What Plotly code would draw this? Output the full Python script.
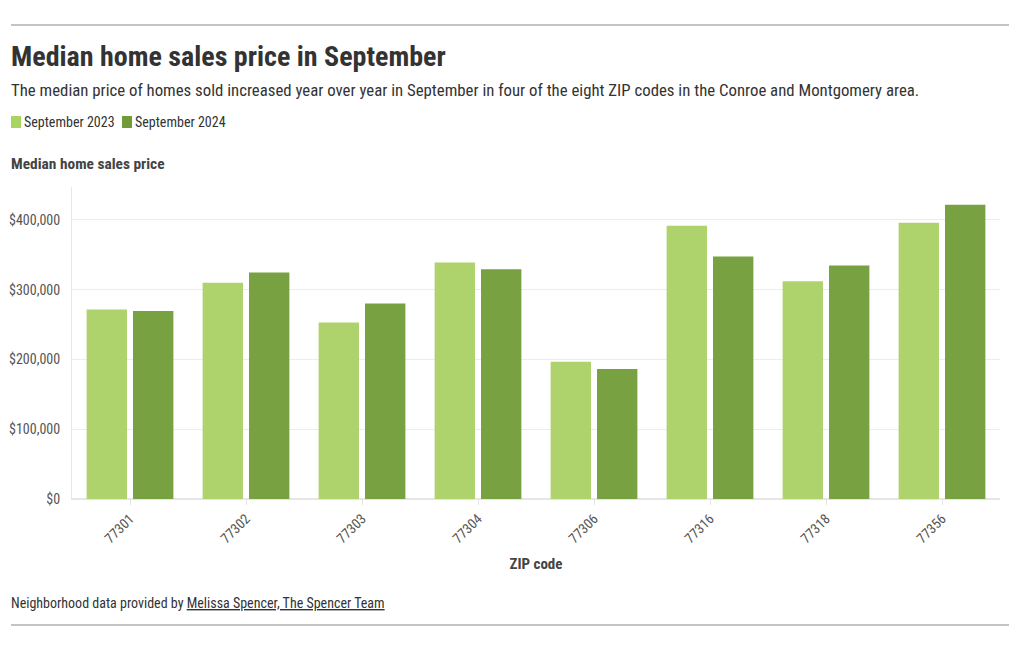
import plotly.graph_objects as go

zip_codes = ["77301", "77302", "77303", "77304", "77306", "77316", "77318", "77356"]
sep_2023 = [271500, 309700, 252800, 339000, 196600, 391400, 311900, 395700]
sep_2024 = [269500, 324500, 280000, 329000, 186100, 347300, 334400, 421500]
series_names = ["September 2023", "September 2024"]
y_ticks = [0, 100000, 200000, 300000, 400000]
y_tick_labels = ["$0", "$100,000", "$200,000", "$300,000", "$400,000"]

FONT = "Roboto Condensed, Liberation Sans Narrow, Roboto, sans-serif"
colors = ["#aed36c", "#78a142"]
legend_colors = ["#a9d462", "#6f9c36"]

# page body has an 8px margin in the browser; compensate so screen positions match
OFF = 8
W, H = 1020, 650
ml, mr, mt, mb = 72 - OFF, 28, 187 - OFF, 159
pw = W - ml - mr
ph = H - mt - mb

def px_x(p):
    return (p - OFF - ml) / pw

def px_y(p):
    return (H - mb - (p - OFF)) / ph

fig = go.Figure()
for name, vals, c in zip(series_names, [sep_2023, sep_2024], colors):
    fig.add_trace(go.Bar(
        x=zip_codes, y=vals, name=name, marker=dict(color=c, line=dict(width=0)),
        hovertemplate="%{x}: $%{y:,.0f}<extra>" + name + "</extra>",
    ))

fig.update_layout(
    width=W, height=H,
    margin=dict(l=ml, r=mr, t=mt, b=mb, autoexpand=False),
    paper_bgcolor="white", plot_bgcolor="white",
    font=dict(family=FONT, size=14, color="#444"),
    barmode="group", bargap=0.2, bargroupgap=0.13,
    showlegend=False,
    xaxis=dict(
        type="category", showgrid=False, tickangle=-45,
        tickfont=dict(family=FONT, size=14, color="#555"),
        ticks="outside", ticklen=5, tickcolor="#e6e6e6",
        showline=True, linecolor="#e6e6e6",
        title=dict(text="<b>ZIP code</b>", font=dict(family=FONT, size=15, color="#444"), standoff=13),
        fixedrange=True,
    ),
    yaxis=dict(
        range=[0, 447000], tickvals=y_ticks, ticktext=y_tick_labels,
        showgrid=True, gridcolor="#ececec", gridwidth=1,
        zeroline=True, zerolinecolor="#e6e6e6",
        showline=True, linecolor="#e6e6e6",
        tickfont=dict(family=FONT, size=14, color="#555"),
        ticks="", ticklabelstandoff=8,
        fixedrange=True,
    ),
)

def note(text, x, y, size, color="#333"):
    fig.add_annotation(
        text=text, xref="paper", yref="paper", x=px_x(x), y=px_y(y),
        xanchor="left", yanchor="middle", showarrow=False,
        font=dict(family=FONT, size=size, color=color),
    )

note("<b>Median home sales price in September</b>", 9, 57, 28)
note("The median price of homes sold increased year over year in September in four of the eight ZIP codes in the Conroe and Montgomery area.",
     9, 90, 16.8)
note("<b>Median home sales price</b>", 9, 164, 15.4, "#444")
note("Neighborhood data provided by <u>Melissa Spencer, The Spencer Team</u>", 9, 603, 14)

# legend (swatches + labels)
legend_x = [11, 122]
for name, c, lx in zip(series_names, legend_colors, legend_x):
    fig.add_shape(type="rect", xref="paper", yref="paper",
                  x0=px_x(lx), x1=px_x(lx + 10), y0=px_y(116), y1=px_y(128),
                  fillcolor=c, line=dict(width=0))
    note(name, lx + 11, 122, 14)

for yy in (25, 625):
    fig.add_shape(type="line", xref="paper", yref="paper",
                  x0=px_x(11), x1=px_x(1009), y0=px_y(yy), y1=px_y(yy),
                  line=dict(color="#888", width=1))

fig.write_html("out.html", config={"displayModeBar": False})
